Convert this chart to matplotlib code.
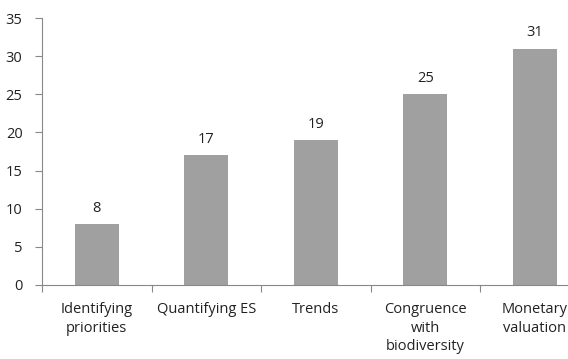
import matplotlib
matplotlib.use("Agg")
import matplotlib.pyplot as plt
import numpy as np

categories = ["Identifying\npriorities", "Quantifying ES", "Trends", "Congruence\nwith\nbiodiversity", "Monetary\nvaluation"]
values = [8, 17, 19, 25, 31]

plt.rcParams['font.family'] = ['Open Sans', 'DejaVu Sans']
fig = plt.figure(figsize=(5.68, 3.59), dpi=100)
ax = fig.add_axes([42/568, 1-285/359, 1-42/568, (285-18)/359])
x = np.arange(len(categories))
ax.bar(x, values, width=0.4, color="#a0a0a0")
for xi, v in zip(x, values):
    ax.text(xi, v + 1.1, str(v), ha="center", va="bottom", fontsize=10.5, color="#222222")
ax.set_ylim(0, 35)
ax.set_yticks(range(0, 36, 5))
ax.set_xticks(np.arange(-0.5, len(categories), 1.0))
ax.set_xticklabels([])
ax.set_xticks(x, minor=True)
ax.set_xticklabels(categories, minor=True, fontsize=10.5, color="#222222", va="top", linespacing=1.35)
ax.set_xlim(-0.5, -0.5 + (568-42)/109.5)
ax.tick_params(axis="x", which="minor", length=0, pad=12)
ax.tick_params(axis="x", which="major", length=5, color="#888888", direction="out")
ax.tick_params(axis="y", length=5, color="#888888", labelsize=10.5, labelcolor="#222222", pad=9)
for s in ["top", "right"]:
    ax.spines[s].set_visible(False)
for s in ["left", "bottom"]:
    ax.spines[s].set_color("#888888")
fig.savefig("out.png", dpi=100)
